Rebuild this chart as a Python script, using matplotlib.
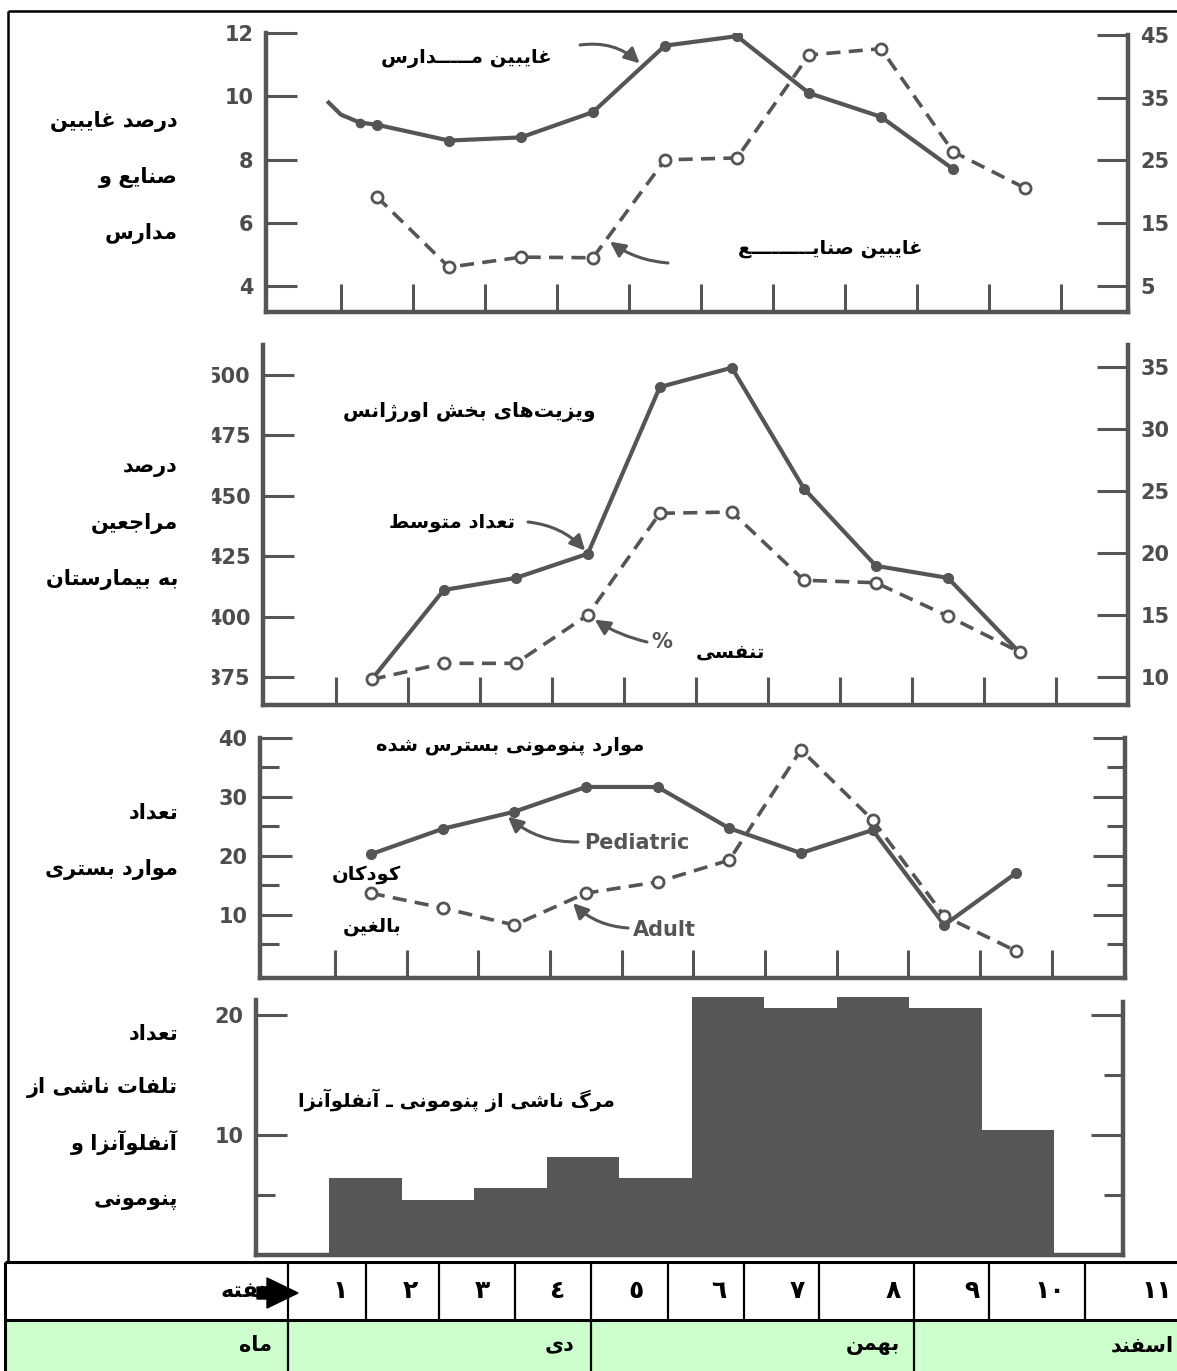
import numpy as np
import matplotlib
matplotlib.use('Agg')
import matplotlib.pyplot as plt
from matplotlib.lines import Line2D
from matplotlib.patches import Rectangle, Polygon

# ---------------- data ----------------
weeks = [1, 2, 3, 4, 5, 6, 7, 8, 9, 10]
school_weeks = [1, 2, 3, 4, 5, 6, 7, 8, 9]
school_absent = [9.1, 8.6, 8.7, 9.5, 11.6, 11.9, 10.1, 9.35, 7.7]
school_lead_weeks = [0.33, 0.5, 0.76]
school_lead = [9.8, 9.42, 9.17]
industry_absent = [19.2, 8.0, 9.6, 9.5, 25.1, 25.4, 41.8, 42.8, 26.4, 20.6]
er_visits = [374, 411, 416, 426, 495, 503, 453, 421, 416, 385]
resp_pct = [9.8, 11.1, 11.1, 15.0, 23.2, 23.3, 17.8, 17.6, 14.9, 12.0]
pediatric = [20.3, 24.6, 27.5, 31.7, 31.7, 24.7, 20.5, 24.4, 8.3, 17.1]
adult = [13.7, 11.2, 8.3, 13.7, 15.6, 19.3, 38.0, 26.1, 9.8, 3.9]
deaths = [6.4, 4.6, 5.6, 8.2, 6.4, 21.5, 20.6, 21.5, 20.6, 10.4]

p1_left_ticks = [4, 6, 8, 10, 12]
p1_right_ticks = [5, 15, 25, 35, 45]
p2_left_ticks = [375, 400, 425, 450, 475, 500]
p2_right_ticks = [10, 15, 20, 25, 30, 35]
p3_major = [10, 20, 30, 40]
p3_minor = [5, 15, 25, 35]
p4_left_major = [10, 20]
p4_minor = [5, 15]

week_labels = ['١', '٢', '٣', '٤', '٥', '٦', '٧', '٨', '٩', '١٠', '١١']
month_labels = ['دی', 'بهمن', 'اسفند']

# ---------------- Persian shaping (presentation forms) ----------------
FORMS = {
    '\u0627': ('\uFE8D', '\uFE8E', None, None),
    '\u0622': ('\uFE81', '\uFE82', None, None),
    '\u0628': ('\uFE8F', '\uFE90', '\uFE91', '\uFE92'),
    '\u067E': ('\uFB56', '\uFB57', '\uFB58', '\uFB59'),
    '\u062A': ('\uFE95', '\uFE96', '\uFE97', '\uFE98'),
    '\u062B': ('\uFE99', '\uFE9A', '\uFE9B', '\uFE9C'),
    '\u062C': ('\uFE9D', '\uFE9E', '\uFE9F', '\uFEA0'),
    '\u0686': ('\uFB7A', '\uFB7B', '\uFB7C', '\uFB7D'),
    '\u062D': ('\uFEA1', '\uFEA2', '\uFEA3', '\uFEA4'),
    '\u062E': ('\uFEA5', '\uFEA6', '\uFEA7', '\uFEA8'),
    '\u062F': ('\uFEA9', '\uFEAA', None, None),
    '\u0630': ('\uFEAB', '\uFEAC', None, None),
    '\u0631': ('\uFEAD', '\uFEAE', None, None),
    '\u0632': ('\uFEAF', '\uFEB0', None, None),
    '\u0698': ('\uFB8A', '\uFB8B', None, None),
    '\u0633': ('\uFEB1', '\uFEB2', '\uFEB3', '\uFEB4'),
    '\u0634': ('\uFEB5', '\uFEB6', '\uFEB7', '\uFEB8'),
    '\u0635': ('\uFEB9', '\uFEBA', '\uFEBB', '\uFEBC'),
    '\u0636': ('\uFEBD', '\uFEBE', '\uFEBF', '\uFEC0'),
    '\u0637': ('\uFEC1', '\uFEC2', '\uFEC3', '\uFEC4'),
    '\u0638': ('\uFEC5', '\uFEC6', '\uFEC7', '\uFEC8'),
    '\u0639': ('\uFEC9', '\uFECA', '\uFECB', '\uFECC'),
    '\u063A': ('\uFECD', '\uFECE', '\uFECF', '\uFED0'),
    '\u0641': ('\uFED1', '\uFED2', '\uFED3', '\uFED4'),
    '\u0642': ('\uFED5', '\uFED6', '\uFED7', '\uFED8'),
    '\u06A9': ('\uFB8E', '\uFB8F', '\uFB90', '\uFB91'),
    '\u06AF': ('\uFB92', '\uFB93', '\uFB94', '\uFB95'),
    '\u0644': ('\uFEDD', '\uFEDE', '\uFEDF', '\uFEE0'),
    '\u0645': ('\uFEE1', '\uFEE2', '\uFEE3', '\uFEE4'),
    '\u0646': ('\uFEE5', '\uFEE6', '\uFEE7', '\uFEE8'),
    '\u0647': ('\uFEE9', '\uFEEA', '\uFEEB', '\uFEEC'),
    '\u0648': ('\uFEED', '\uFEEE', None, None),
    '\u06CC': ('\uFBFC', '\uFBFD', '\uFBFE', '\uFBFF'),
    '\u0640': ('\u0640', '\u0640', '\u0640', '\u0640'),
}


def fa(s):
    out = []
    n = len(s)
    for i, c in enumerate(s):
        if c == '\u200c':
            continue
        if c not in FORMS:
            out.append(c)
            continue
        iso, fin, ini, med = FORMS[c]
        prev = s[i - 1] if i > 0 else None
        nxt = s[i + 1] if i < n - 1 else None
        jp = prev is not None and prev in FORMS and FORMS[prev][2] is not None
        jn = ini is not None and nxt is not None and nxt in FORMS
        if jp and jn:
            f = med
        elif jp:
            f = fin
        elif jn:
            f = ini
        else:
            f = iso
        out.append(f)
    return ''.join(reversed(out))


# ---------------- figure helpers ----------------
W, H = 1177, 1371
GRAY = '#555555'
fig = plt.figure(figsize=(W / 100, H / 100), dpi=100)
fig.patch.set_facecolor('white')

FA_FONT = dict(family='DejaVu Sans', weight='bold')


def add_axes_px(l, t, r, b):
    ax = fig.add_axes([l / W, 1 - b / H, (r - l) / W, (b - t) / H])
    ax.patch.set_visible(False)
    return ax


def ftext(x, y, s, size=14, ha='center', color='black', shape=True, z=5, **kw):
    fig.text(x / W, 1 - y / H, fa(s) if shape else s, ha=ha, va='center',
             fontsize=size, color=color, zorder=z, **{**FA_FONT, **kw})


def fline(xs, ys, lw=2.0, color='black', z=6):
    fig.add_artist(Line2D([x / W for x in xs], [1 - y / H for y in ys],
                          transform=fig.transFigure, color=color, lw=lw,
                          zorder=z, solid_capstyle='butt'))


def fpx(x, y):
    return (x, H - y)


def style_axes(ax, side):
    for s in ['top', 'left', 'right', 'bottom']:
        ax.spines[s].set_visible(False)
    ax.spines[side].set_visible(True)
    ax.spines[side].set_color(GRAY)
    ax.spines[side].set_linewidth(3.2)


def show_bottom(ax):
    ax.spines['bottom'].set_visible(True)
    ax.spines['bottom'].set_color(GRAY)
    ax.spines['bottom'].set_linewidth(3.2)


def style_ticks(ax, axis, **kw):
    ax.tick_params(axis=axis, direction='in', color=GRAY, width=2.2,
                   labelcolor='#4d4d4d', labelsize=15, **kw)
    for lab in (ax.get_yticklabels() if axis == 'y' else ax.get_xticklabels()):
        lab.set_fontweight('bold')
        lab.set_family('DejaVu Sans')


solid_kw = dict(color=GRAY, lw=3.0, marker='o', ms=7, mfc=GRAY, mec=GRAY)
dash_kw = dict(color=GRAY, lw=2.6, ls=(0, (3.9, 2.3)), marker='o', ms=8,
               mfc='white', mec=GRAY, mew=2.0)
arrow_kw = dict(arrowstyle='-|>,head_length=0.9,head_width=0.45', color=GRAY,
                lw=2.2, shrinkA=0, shrinkB=3)

xt = np.arange(0.5, 11.0, 1.0)

# ---------------- panel 1 : absenteeism ----------------
ax1 = add_axes_px(266, 33, 1128, 312)
ax1.set_xlim(-0.54, 11.43)
ax1.set_ylim(3.18, 12.0)
ax1r = ax1.twinx()
ax1r.patch.set_visible(False)
ax1r.set_ylim(0.86, 45.3)
style_axes(ax1, 'left')
show_bottom(ax1)
style_axes(ax1r, 'right')
ax1r.spines['right'].set_bounds(0.86, 45)
ax1.set_xticks(xt)
ax1.set_yticks(p1_left_ticks)
ax1r.set_yticks(p1_right_ticks)
style_ticks(ax1, 'x', length=20, labelbottom=False)
style_ticks(ax1, 'y', length=22, pad=9)
style_ticks(ax1r, 'y', length=22, pad=9)
ax1.plot(school_lead_weeks + school_weeks[:1], school_lead + school_absent[:1],
         color=GRAY, lw=3.0)
ax1.plot(school_lead_weeks[-1:], school_lead[-1:], 'o', color=GRAY, ms=6)
ax1.plot(school_weeks, school_absent, **solid_kw)
ax1r.plot(weeks, industry_absent, **dash_kw)
ax1.annotate('', xy=(4.69, np.interp(4.69, school_weeks, school_absent)),
             xytext=fpx(580, 45), textcoords='figure pixels',
             arrowprops=dict(connectionstyle='arc3,rad=-0.25', **arrow_kw))
ax1r.annotate('', xy=(4.19, np.interp(4.19, weeks, industry_absent)),
              xytext=fpx(668, 263), textcoords='figure pixels',
              arrowprops=dict(connectionstyle='arc3,rad=-0.15', **arrow_kw))

# ---------------- panel 2 : emergency visits ----------------
ax2 = add_axes_px(263, 345, 1128, 705)
ax2.set_xlim(-0.51, 11.5)
ax2.set_ylim(363.4, 512.4)
ax2r = ax2.twinx()
ax2r.patch.set_visible(False)
ax2r.set_ylim(7.74, 36.77)
style_axes(ax2, 'left')
show_bottom(ax2)
style_axes(ax2r, 'right')
ax2.set_xticks(xt)
ax2.set_yticks(p2_left_ticks)
ax2r.set_yticks(p2_right_ticks)
style_ticks(ax2, 'x', length=20, labelbottom=False)
style_ticks(ax2, 'y', length=22, pad=9)
style_ticks(ax2r, 'y', length=22, pad=9)
ax2.plot(weeks, er_visits, **solid_kw)
ax2r.plot(weeks, resp_pct, **dash_kw)
ax2.annotate('', xy=(weeks[3], er_visits[3]), xytext=fpx(528, 522),
             textcoords='figure pixels',
             arrowprops=dict(connectionstyle='arc3,rad=-0.2', **arrow_kw))
ax2r.annotate('', xy=(weeks[3], resp_pct[3]), xytext=fpx(647, 642),
              textcoords='figure pixels',
              arrowprops=dict(connectionstyle='arc3,rad=-0.1',
                              **{**arrow_kw, 'shrinkB': 6}))
# clipped first digits of the left scale (as in the scan)
fig.add_artist(Rectangle((190 / W, 1 - 700 / H), 21 / W, 345 / H,
                         transform=fig.transFigure, color='white', zorder=2))

# ---------------- panel 3 : pneumonia admissions ----------------
ax3 = add_axes_px(260, 738, 1125, 978)
ax3.set_xlim(-0.546, 11.52)
ax3.set_ylim(-0.68, 40)
ax3r = ax3.twinx()
ax3r.patch.set_visible(False)
ax3r.set_ylim(-0.68, 40)
style_axes(ax3, 'left')
show_bottom(ax3)
style_axes(ax3r, 'right')
ax3.set_xticks(xt)
ax3.set_yticks(p3_major)
ax3.set_yticks(p3_minor, minor=True)
ax3r.set_yticks(p3_major)
ax3r.set_yticks(p3_minor, minor=True)
style_ticks(ax3, 'x', length=20, labelbottom=False)
style_ticks(ax3, 'y', length=23, pad=9)
ax3.tick_params(axis='y', which='minor', direction='in', length=14, width=2.2, color=GRAY)
style_ticks(ax3r, 'y', length=23, labelright=False)
ax3r.tick_params(axis='y', which='minor', direction='in', length=13, width=2.2, color=GRAY)
ax3.plot(weeks, pediatric, **solid_kw)
ax3r.plot(weeks, adult, **dash_kw)
ax3.annotate('', xy=(2.87, np.interp(2.87, weeks, pediatric)), xytext=fpx(578, 842),
             textcoords='figure pixels',
             arrowprops=dict(connectionstyle='arc3,rad=-0.2', **arrow_kw))
ax3r.annotate('', xy=(3.78, np.interp(3.78, weeks, adult)), xytext=fpx(628, 928),
              textcoords='figure pixels',
              arrowprops=dict(connectionstyle='arc3,rad=-0.2', **arrow_kw))

# ---------------- panel 4 : deaths ----------------
ax4 = add_axes_px(256, 993, 1123, 1255)
ax4.set_xlim(-0.507, 11.45)
ax4.set_ylim(0, 21.83)
ax4r = ax4.twinx()
ax4r.patch.set_visible(False)
ax4r.set_ylim(0, 21.83)
style_axes(ax4, 'left')
ax4.spines['left'].set_bounds(0, 21.25)
show_bottom(ax4)
style_axes(ax4r, 'right')
ax4r.spines['right'].set_bounds(0, 21.1)
ax4.set_xticks([])
ax4.set_yticks(p4_left_major)
ax4.set_yticks([p4_minor[0]], minor=True)
ax4r.set_yticks(p4_left_major)
ax4r.set_yticks(p4_minor, minor=True)
style_ticks(ax4, 'y', length=22, pad=9)
ax4.tick_params(axis='y', which='minor', direction='in', length=14, width=2.2, color=GRAY)
style_ticks(ax4r, 'y', length=23, labelright=False)
ax4r.tick_params(axis='y', which='minor', direction='in', length=14, width=2.2, color=GRAY)
ax4.bar(weeks, deaths, width=1.0, color='#575757', linewidth=0)

# ---------------- Persian labels ----------------
for y, s in [(122, 'درصد غایبین'), (177, 'صنایع و'), (233, 'مدارس'),
             (467, 'درصد'), (523, 'مراجعین'), (580, 'به بیمارستان'),
             (812, 'تعداد'), (870, 'موارد بستری'),
             (1033, 'تعداد'), (1087, 'تلفات ناشی از'), (1143, 'آنفلوآنزا و'),
             (1200, 'پنومونی')]:
    ftext(178, y, s, size=15, ha='right')

ftext(466, 58, 'غایبین مـــــدارس')
ftext(830, 248, 'غایبین صنایـــــــــع')
ftext(469, 412, 'ویزیت\u200cهای بخش اورژانس', size=14.5)
ftext(452, 523, 'تعداد متوسط')
ftext(730, 652, 'تنفسی')
ftext(662, 642, '%', size=15, color=GRAY, shape=False)
ftext(510, 747, 'موارد پنومونی بسترس شده')
ftext(366, 875, 'کودکان')
ftext(372, 927, 'بالغین')
ftext(584, 843, 'Pediatric', size=15, ha='left', color=GRAY, shape=False)
ftext(633, 930, 'Adult', size=15, ha='left', color=GRAY, shape=False)
ftext(456, 1100, 'مرگ ناشی از پنومونی ـ آنفلوآنزا')

# ---------------- frame ----------------
fline([8, 1177], [11, 11], lw=1.8)
fline([8, 8], [11, 1262], lw=1.8)

# ---------------- table ----------------
fig.add_artist(Rectangle((5 / W, 0), (W - 5) / W, (H - 1320) / H,
                         transform=fig.transFigure, color='#CCFFCC', zorder=1))
fline([5, 1177], [1262, 1262], lw=2.2)
fline([5, 1177], [1320, 1320], lw=2.2)
fline([5, 5], [1262, 1371], lw=2.2)
week_borders = [288, 366, 439, 515, 591, 668, 744, 819, 914, 989, 1085]
for x in week_borders:
    fline([x, x], [1262, 1320], lw=1.6)
for x in [288, 591, 914]:
    fline([x, x], [1320, 1371], lw=1.6)

week_x = [340, 410, 482, 557, 636, 719, 797, 893, 972, 1050, 1157]
for x, lab in zip(week_x, week_labels):
    ftext(x, 1291, lab, size=18, shape=False)
ftext(274, 1291, 'هفته', size=16, ha='right')
fig.add_artist(Polygon([(257 / W, 1 - 1287 / H), (267 / W, 1 - 1287 / H),
                        (267 / W, 1 - 1278 / H), (298 / W, 1 - 1293 / H),
                        (267 / W, 1 - 1308 / H), (267 / W, 1 - 1299 / H),
                        (257 / W, 1 - 1299 / H)], closed=True,
                       transform=fig.transFigure, color='black', zorder=7))

ftext(272, 1345, 'ماه', size=15, ha='right')
ftext(574, 1345, month_labels[0], size=15, ha='right')
ftext(900, 1345, month_labels[1], size=15, ha='right')
ftext(1174, 1345, month_labels[2], size=15, ha='right')

fig.savefig('out.png', dpi=100, facecolor='white')
